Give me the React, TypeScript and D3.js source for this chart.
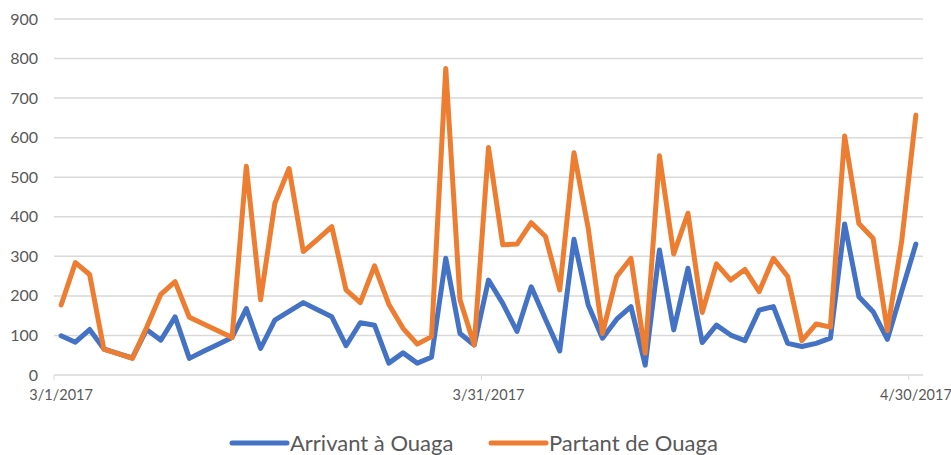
import { useEffect, useRef } from 'react';
import * as d3 from 'd3';

const WIDTH = 951;
const HEIGHT = 455;

// one value per day, 3/1/2017 .. 4/30/2017
const arrivant = [
  99, 83, 115, 66, 54, 43, 115, 88, 147, 42,
  60, 77, 95, 168, 67, 139, 161, 183, 165, 147,
  74, 132, 126, 30, 56, 30, 45, 295, 105, 76,
  240, 181, 110, 223, 141, 61, 343, 177, 93, 141,
  173, 25, 316, 114, 270, 82, 126, 101, 87, 164,
  173, 80, 72, 80, 93, 382, 198, 160, 90, 211,
  331,
];

const partant = [
  177, 284, 254, 65, 54, 42, 120, 204, 236, 146,
  129, 112, 95, 528, 190, 434, 522, 312, 343, 375,
  215, 183, 276, 179, 118, 78, 97, 775, 190, 76,
  575, 329, 331, 385, 350, 215, 562, 371, 105, 249,
  295, 55, 554, 306, 409, 158, 281, 240, 267, 211,
  295, 249, 87, 129, 121, 604, 383, 345, 112, 337,
  657,
];

const seriesNames = ['Arrivant à Ouaga', 'Partant de Ouaga'];
const seriesColors = ['#4472C4', '#ED7D31'];
const yTicks = [0, 100, 200, 300, 400, 500, 600, 700, 800, 900];
const xTickIndex = [0, 30, 60];
const xTickLabels = ['3/1/2017', '3/31/2017', '4/30/2017'];

export default function App() {
  const svgRef = useRef<SVGSVGElement>(null);

  useEffect(() => {
    if (!svgRef.current) return;
    const svg = d3.select(svgRef.current);
    svg.selectAll('*').remove();

    const left = 54;
    const right = 923;
    const top = 19;
    const bottom = 375;
    const font = 'Lato, "Open Sans", sans-serif';
    const textColor = '#595959';

    const days = d3.range(arrivant.length);
    const x = d3.scaleBand<number>().domain(days).range([left, right]).padding(0);
    const y = d3.scaleLinear().domain([0, 900]).range([bottom, top]);
    const cx = (i: number) => (x(i) || 0) + x.bandwidth() / 2;

    // gridlines
    svg.append('g')
      .selectAll('line')
      .data(yTicks)
      .enter()
      .append('line')
      .attr('x1', left)
      .attr('x2', right)
      .attr('y1', d => y(d))
      .attr('y2', d => y(d))
      .attr('stroke', '#d9d9d9')
      .attr('stroke-width', 1.5);

    // y labels
    svg.append('g')
      .selectAll('text')
      .data(yTicks)
      .enter()
      .append('text')
      .attr('x', 38)
      .attr('y', d => y(d))
      .attr('dy', '0.35em')
      .attr('text-anchor', 'end')
      .attr('font-family', font)
      .attr('font-size', 16)
      .attr('fill', textColor)
      .text(d => d);

    // x ticks
    svg.append('g')
      .selectAll('line')
      .data(xTickIndex)
      .enter()
      .append('line')
      .attr('x1', d => x(d) || 0)
      .attr('x2', d => x(d) || 0)
      .attr('y1', bottom)
      .attr('y2', bottom + 5)
      .attr('stroke', '#d9d9d9')
      .attr('stroke-width', 1);

    svg.append('g')
      .selectAll('text')
      .data(xTickIndex)
      .enter()
      .append('text')
      .attr('x', d => cx(d))
      .attr('y', 400)
      .attr('text-anchor', 'middle')
      .attr('font-family', font)
      .attr('font-size', 14.5)
      .attr('fill', textColor)
      .text((d, i) => xTickLabels[i]);

    const line = d3.line<number>()
      .x((d, i) => cx(i))
      .y(d => y(d));

    [arrivant, partant].forEach((values, k) => {
      svg.append('path')
        .datum(values)
        .attr('d', line)
        .attr('fill', 'none')
        .attr('stroke', seriesColors[k])
        .attr('stroke-width', 5)
        .attr('stroke-linejoin', 'round')
        .attr('stroke-linecap', 'round');
    });

    // legend
    const legendX = [232, 491];
    seriesNames.forEach((name, k) => {
      const g = svg.append('g').attr('transform', `translate(${legendX[k]}, 443)`);
      g.append('line')
        .attr('x1', 0)
        .attr('x2', 55)
        .attr('y1', 0)
        .attr('y2', 0)
        .attr('stroke', seriesColors[k])
        .attr('stroke-width', 5)
        .attr('stroke-linecap', 'round');
      g.append('text')
        .attr('x', 58)
        .attr('y', 0)
        .attr('dy', '0.35em')
        .attr('font-family', font)
        .attr('font-size', 22)
        .attr('fill', textColor)
        .text(name);
    });
  }, []);

  return (
    <svg
      ref={svgRef}
      width={WIDTH}
      height={HEIGHT}
      style={{ position: 'absolute', left: 0, top: 0, background: '#fff' }}
    />
  );
}
